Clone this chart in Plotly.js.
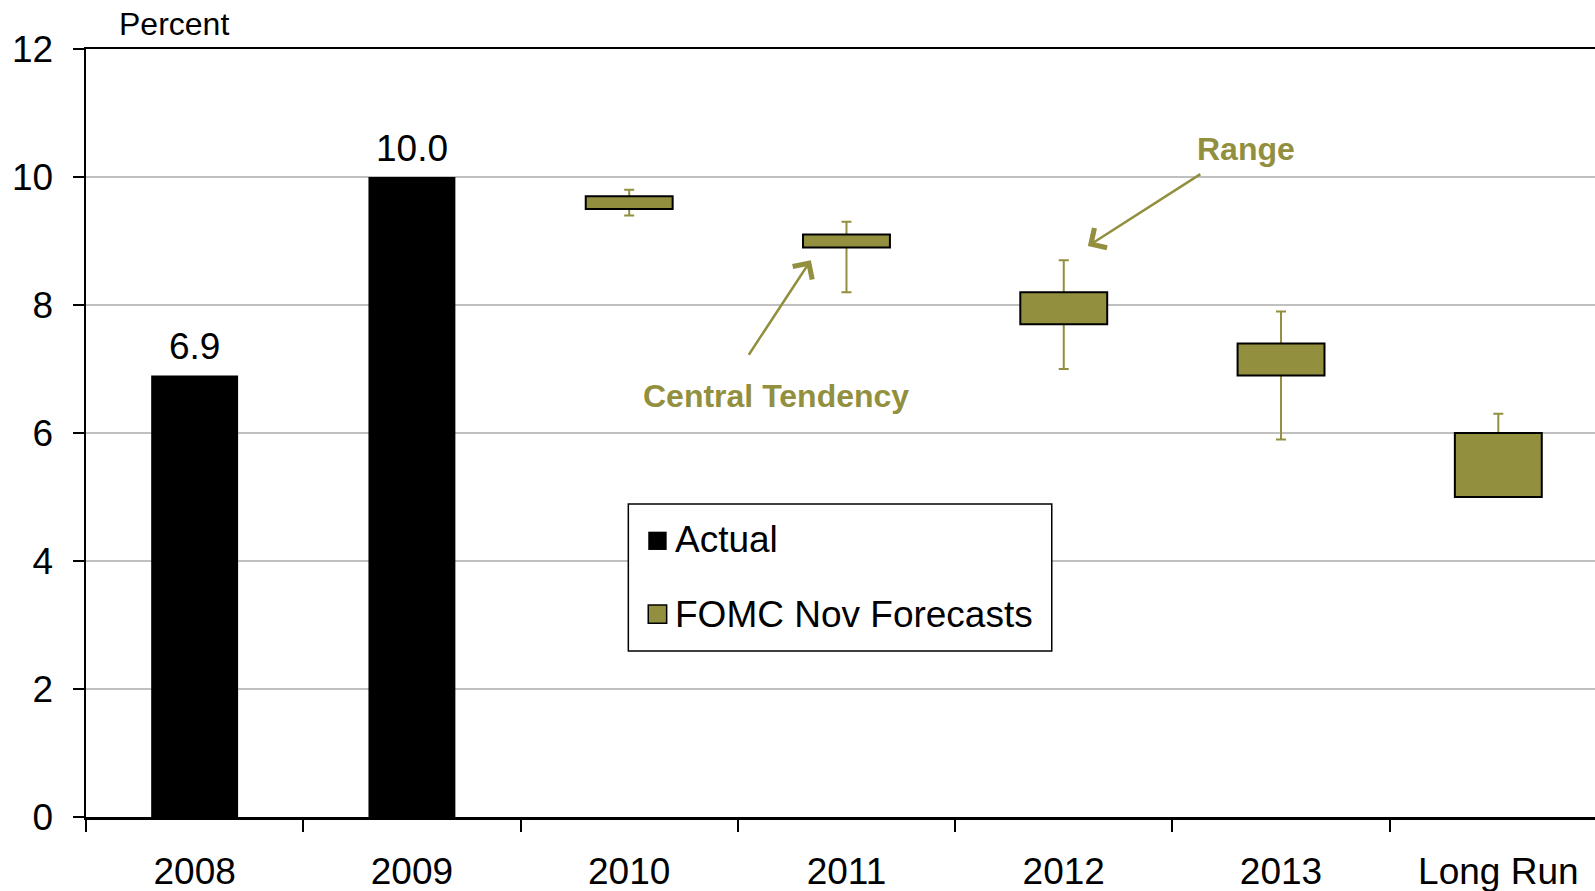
<!DOCTYPE html>
<html>
<head>
<meta charset="utf-8">
<script src="https://cdn.plot.ly/plotly-3.0.1.min.js"></script>
<style>
  html, body { margin: 0; padding: 0; background: #fff; }
  #chart { width: 1595px; height: 891px; }
</style>
</head>
<body>
<div id="chart"></div>
<script>
// Unemployment rate: actual and FOMC November projections (percent)
const categories = ['2008', '2009', '2010', '2011', '2012', '2013', 'Long Run'];

const actualYears = ['2008', '2009'];
const actualValues = [6.9, 10.0];
const actualLabels = ['6.9', '10.0'];

const forecastYears = ['2010', '2011', '2012', '2013', 'Long Run'];
const centralLow  = [9.5, 8.9, 7.7, 6.9, 5.0];
const centralHigh = [9.7, 9.1, 8.2, 7.4, 6.0];
const rangeLow    = [9.4, 8.2, 7.0, 5.9, 5.0];
const rangeHigh   = [9.8, 9.3, 8.7, 7.9, 6.3];

const legendNames = ['Actual', 'FOMC Nov Forecasts'];

const OLIVE = '#928f3e';
const FONT = 'Liberation Sans, Arial, sans-serif';

// central tendency boxes are floating bars from low to high
const ctHeights = centralHigh.map((h, i) => +(h - centralLow[i]).toFixed(2));
// full range whisker, drawn underneath the boxes
const rangeSpan = rangeHigh.map((h, i) => +(h - rangeLow[i]).toFixed(2));

const traces = [
  // whiskers live on the base axis so the boxes on y2 sit above them
  {
    type: 'scatter', mode: 'markers', x: forecastYears, y: rangeLow, yaxis: 'y',
    marker: { size: 1, opacity: 0 },
    error_y: { type: 'data', symmetric: false, array: rangeSpan, arrayminus: rangeSpan.map(() => 0),
               color: OLIVE, thickness: 2, width: 5 },
    showlegend: false, hoverinfo: 'skip'
  },
  {
    type: 'bar', name: legendNames[0], x: actualYears, y: actualValues, yaxis: 'y2',
    marker: { color: '#000000', line: { width: 0 } },
    width: 0.4, showlegend: false
  },
  {
    type: 'bar', name: legendNames[1], x: forecastYears, y: ctHeights, base: centralLow, yaxis: 'y2',
    marker: { color: OLIVE, line: { color: '#000000', width: 2 } },
    width: 0.4, showlegend: false
  }
];

// value labels above the actual bars
const valueLabels = actualYears.map((yr, i) => ({
  xref: 'x', yref: 'y', x: categories.indexOf(yr), y: actualValues[i],
  xanchor: 'center', yanchor: 'bottom', yshift: 6,
  text: actualLabels[i], showarrow: false, font: { family: FONT, size: 37, color: '#000' }
}));

// legend box drawn in paper coordinates
const legendShapes = [
  { type: 'rect', xref: 'paper', yref: 'paper', x0: 0.3594, x1: 0.6400, y0: 0.2161, y1: 0.4076,
    fillcolor: '#fff', line: { color: '#000', width: 1.5 }, layer: 'above' },
  { type: 'rect', xref: 'paper', yref: 'paper', x0: 0.3726, x1: 0.3848, y0: 0.3477, y1: 0.3715,
    fillcolor: '#000', line: { width: 0 }, layer: 'above' },
  { type: 'rect', xref: 'paper', yref: 'paper', x0: 0.3726, x1: 0.3848, y0: 0.2522, y1: 0.2760,
    fillcolor: OLIVE, line: { color: '#000', width: 1.5 }, layer: 'above' }
];
const legendText = [0.3607, 0.2643].map((yy, i) => ({
  xref: 'paper', yref: 'paper', x: 0.3888, y: yy, xanchor: 'left', yanchor: 'middle',
  text: legendNames[i], showarrow: false, font: { family: FONT, size: 37, color: '#000' }
}));

const layout = {
  width: 1595, height: 891,
  margin: { l: 86, r: 0, t: 49, b: 74 },
  paper_bgcolor: '#fff', plot_bgcolor: '#fff',
  font: { family: FONT, color: '#000' },
  showlegend: false,
  barmode: 'overlay',
  xaxis: {
    type: 'category', categoryorder: 'array', categoryarray: categories,
    range: [-0.5, 6.445],
    showline: true, linecolor: '#000', linewidth: 2.5, mirror: true,
    ticks: 'outside', tickson: 'boundaries', ticklen: 12, tickwidth: 2, tickcolor: '#000',
    ticklabelstandoff: 20,
    tickfont: { family: FONT, size: 37, color: '#000' },
    showgrid: false, zeroline: false, fixedrange: true
  },
  yaxis: {
    range: [0, 12], tickvals: [0, 2, 4, 6, 8, 10, 12], ticktext: ['0', '2', '4', '6', '8', '10', '12'],
    showline: true, linecolor: '#000', linewidth: 2.5,
    ticks: 'outside', ticklen: 11, tickwidth: 2, tickcolor: '#000',
    ticklabelstandoff: 12,
    tickfont: { family: FONT, size: 37, color: '#000' },
    showgrid: true, gridcolor: '#c0c0c0', gridwidth: 2,
    zeroline: false, fixedrange: true
  },
  yaxis2: {
    overlaying: 'y', range: [0, 12], visible: false, showgrid: false, zeroline: false, fixedrange: true
  },
  shapes: legendShapes,
  annotations: [
    { xref: 'paper', yref: 'paper', x: 0.058, y: 1.0, xanchor: 'center', yanchor: 'bottom', yshift: 5,
      text: 'Percent', showarrow: false, font: { family: FONT, size: 32, color: '#000' } },
    { xref: 'x', yref: 'y', x: 4.84, y: 10.43, xanchor: 'center', yanchor: 'middle',
      text: '<b>Range</b>', showarrow: false, font: { family: FONT, size: 32, color: OLIVE } },
    { xref: 'x', yref: 'y', x: 2.674, y: 6.58, xanchor: 'center', yanchor: 'middle',
      text: '<b>Central Tendency</b>', showarrow: false, font: { family: FONT, size: 32, color: OLIVE } },
    { xref: 'x', yref: 'y', x: 4.111, y: 8.92, ax: 114, ay: -73, text: '',
      showarrow: true, arrowhead: 4, arrowsize: 1.8, arrowwidth: 2.5, arrowcolor: OLIVE, standoff: 0 },
    { xref: 'x', yref: 'y', x: 2.836, y: 8.70, ax: -63, ay: 96, text: '',
      showarrow: true, arrowhead: 4, arrowsize: 1.8, arrowwidth: 2.5, arrowcolor: OLIVE, standoff: 0 }
  ].concat(valueLabels, legendText)
};

Plotly.newPlot('chart', traces, layout, { staticPlot: true, displayModeBar: false });
</script>
</body>
</html>
